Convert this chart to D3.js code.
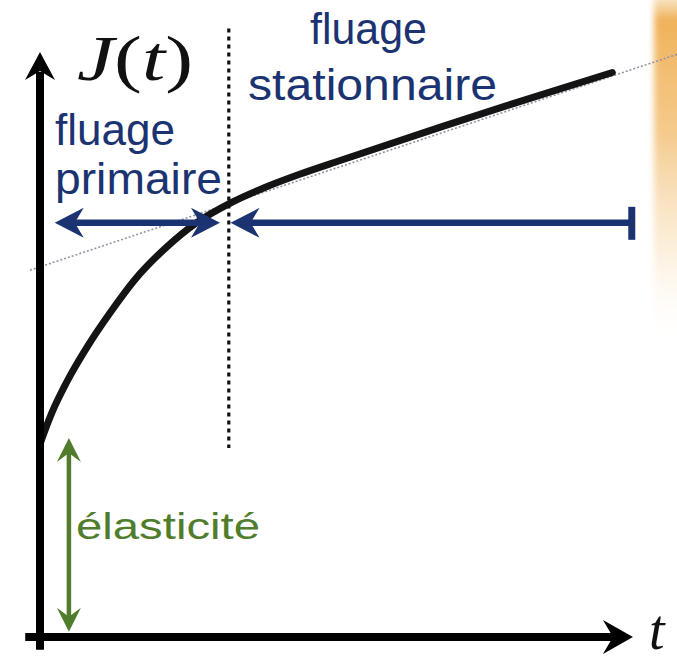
<!DOCTYPE html>
<html>
<head>
<meta charset="utf-8">
<script src="https://cdn.jsdelivr.net/npm/d3@7"></script>
<style>
  html, body { margin: 0; padding: 0; background: #ffffff; }
  svg { display: block; }
</style>
</head>
<body>
<svg id="chart" width="677" height="663"></svg>
<script>
// Creep compliance J(t) sampled along the curve (arbitrary units)
const timeValues       = [0, 2, 4.75, 8, 12, 16, 21.5, 26.5, 32.5, 38, 44, 51, 68, 79, 97];
const complianceValues = [33, 38.3, 44, 49.6, 55.6, 61, 66.7, 70.8, 74.3, 76.8, 79.1, 81.5, 87.2, 90.8, 96.5];

// Steady-state (secondary creep) asymptote
const asymptoteT = [-1.7, 108];
const asymptoteJ = [62.7, 99.6];

// Boundary between primary and steady-state creep
const transitionTime = 32;
const transitionJ = [32.3, 104];

// Phase arrows
const phaseLevel   = 70.8;
const primaryRange = [2.5, 30.5];
const steadyRange  = [32.3, 100.3];
const elasticTime  = 4.9;
const elasticRange = [0.9, 34];

// Axis extents
const timeAxisExtent = [-2.5, 100.5];
const compAxisExtent = [-2.2, 100];

// Text
const yLabelParts = [["J", true], ["(", false], ["t", true], [")", false]];
const xLabel = "t";
const steadyLabel  = ["fluage", "stationnaire"];
const primaryLabel = ["fluage", "primaire"];
const elasticLabel = "élasticité";

const svg = d3.select("#chart");

const x = d3.scaleLinear().domain([0, 100]).range([40, 630]);
const y = d3.scaleLinear().domain([0, 100]).range([637, 52]);

const BLUE = "#1b3371";
const GREEN = "#4f7d2c";

// Decorative warm strip at the right edge
const defs = svg.append("defs");
const grad = defs.append("linearGradient").attr("id", "warm").attr("x1", 0).attr("y1", 0).attr("x2", 0).attr("y2", 1);
grad.append("stop").attr("offset", "0%").attr("stop-color", "#f7e2bd").attr("stop-opacity", 0.7);
grad.append("stop").attr("offset", "7%").attr("stop-color", "#efae52").attr("stop-opacity", 0.95);
grad.append("stop").attr("offset", "40%").attr("stop-color", "#f2bd70").attr("stop-opacity", 0.8);
grad.append("stop").attr("offset", "72%").attr("stop-color", "#f8dcb2").attr("stop-opacity", 0.5);
grad.append("stop").attr("offset", "100%").attr("stop-color", "#fff6ea").attr("stop-opacity", 0);
defs.append("filter").attr("id", "soft").attr("x", "-50%").attr("width", "200%")
  .append("feGaussianBlur").attr("stdDeviation", 3);
svg.append("rect")
  .attr("x", 654).attr("y", -5).attr("width", 40).attr("height", 345)
  .attr("fill", "url(#warm)").attr("filter", "url(#soft)");

// Arrowhead path (stealth style) with tip at (tx, ty) pointing along (dx, dy)
function arrowHead(tx, ty, dx, dy, len, half, notch) {
  const px = -dy, py = dx;
  const bx = tx - dx * len, by = ty - dy * len;
  const nx = tx - dx * notch, ny = ty - dy * notch;
  return `M${tx},${ty}L${bx + px * half},${by + py * half}L${nx},${ny}L${bx - px * half},${by - py * half}Z`;
}

// Asymptote (dotted)
svg.append("line")
  .attr("x1", x(asymptoteT[0])).attr("y1", y(asymptoteJ[0]))
  .attr("x2", x(asymptoteT[1])).attr("y2", y(asymptoteJ[1]))
  .attr("stroke", "#9294a2").attr("stroke-width", 1.6)
  .attr("stroke-dasharray", "2,2");

// Transition line (dotted)
svg.append("line")
  .attr("x1", x(transitionTime)).attr("x2", x(transitionTime))
  .attr("y1", y(transitionJ[1])).attr("y2", y(transitionJ[0]))
  .attr("stroke", "#111").attr("stroke-width", 3.2)
  .attr("stroke-dasharray", "4,4");

// Creep curve
const data = timeValues.map((t, i) => ({ t, J: complianceValues[i] }));
svg.append("path")
  .datum(data)
  .attr("fill", "none")
  .attr("stroke", "#141414")
  .attr("stroke-width", 7)
  .attr("stroke-linecap", "round")
  .attr("d", d3.line().x(d => x(d.t)).y(d => y(d.J)).curve(d3.curveMonotoneX));

// Axes
const axisG = svg.append("g").attr("fill", "#000").attr("stroke", "#000");
axisG.append("line")
  .attr("x1", x(0)).attr("x2", x(0))
  .attr("y1", y(compAxisExtent[0])).attr("y2", y(compAxisExtent[1]) + 20)
  .attr("stroke-width", 8);
axisG.append("path")
  .attr("stroke", "none")
  .attr("d", arrowHead(x(0), y(compAxisExtent[1]), 0, -1, 28, 15, 19));
axisG.append("line")
  .attr("x1", x(timeAxisExtent[0])).attr("x2", x(timeAxisExtent[1]) - 20)
  .attr("y1", y(0)).attr("y2", y(0))
  .attr("stroke-width", 8);
axisG.append("path")
  .attr("stroke", "none")
  .attr("d", arrowHead(x(timeAxisExtent[1]), y(0), 1, 0, 30, 17, 20));

// Phase arrows (blue)
const py = y(phaseLevel);
const blueG = svg.append("g");
blueG.append("line")
  .attr("x1", x(primaryRange[0]) + 15).attr("x2", x(primaryRange[1]) - 15)
  .attr("y1", py).attr("y2", py)
  .attr("stroke", BLUE).attr("stroke-width", 6.5);
blueG.append("path").attr("fill", BLUE)
  .attr("d", arrowHead(x(primaryRange[0]), py, -1, 0, 29, 15, 20));
blueG.append("path").attr("fill", BLUE)
  .attr("d", arrowHead(x(primaryRange[1]), py, 1, 0, 29, 15, 20));
blueG.append("line")
  .attr("x1", x(steadyRange[0]) + 15).attr("x2", x(steadyRange[1]))
  .attr("y1", py).attr("y2", py)
  .attr("stroke", BLUE).attr("stroke-width", 6.5);
blueG.append("path").attr("fill", BLUE)
  .attr("d", arrowHead(x(steadyRange[0]), py, -1, 0, 29, 15, 20));
blueG.append("line")
  .attr("x1", x(steadyRange[1])).attr("x2", x(steadyRange[1]))
  .attr("y1", py - 16).attr("y2", py + 17)
  .attr("stroke", BLUE).attr("stroke-width", 7);

// Elastic arrow (green)
const ex = x(elasticTime);
svg.append("line")
  .attr("x1", ex).attr("x2", ex)
  .attr("y1", y(elasticRange[0]) - 12).attr("y2", y(elasticRange[1]) + 12)
  .attr("stroke", GREEN).attr("stroke-width", 4.5);
svg.append("path").attr("fill", GREEN)
  .attr("d", arrowHead(ex, y(elasticRange[1]), 0, -1, 24, 12, 15));
svg.append("path").attr("fill", GREEN)
  .attr("d", arrowHead(ex, y(elasticRange[0]), 0, 1, 24, 12, 15));

// Labels
const sans = "'Liberation Sans', Arial, Helvetica, sans-serif";
const serif = "'Liberation Serif', 'DejaVu Serif', 'Times New Roman', serif";

function label(txt, lx, ly, len, size, color) {
  return svg.append("text")
    .attr("x", lx).attr("y", ly)
    .attr("font-family", sans).attr("font-size", size)
    .attr("fill", color)
    .attr("textLength", len).attr("lengthAdjust", "spacingAndGlyphs")
    .text(txt);
}
label(steadyLabel[0], 310, 44, 117, 44, BLUE);
label(steadyLabel[1], 248, 100, 249, 44, BLUE);
label(primaryLabel[0], 55, 145, 120, 44, BLUE);
label(primaryLabel[1], 55, 194, 167, 44, BLUE);
label(elasticLabel, 76, 539, 184, 37, GREEN);

const yl = svg.append("text")
  .attr("x", 77).attr("y", 80)
  .attr("font-family", serif).attr("font-size", 63)
  .attr("fill", "#111")
  .attr("textLength", 116).attr("lengthAdjust", "spacingAndGlyphs");
yLabelParts.forEach(([s, it]) => {
  yl.append("tspan").attr("font-style", it ? "italic" : "normal").text(s);
});

svg.append("text")
  .attr("x", 649).attr("y", 649)
  .attr("font-family", serif).attr("font-size", 56)
  .attr("font-style", "italic")
  .attr("fill", "#111")
  .text(xLabel);
</script>
</body>
</html>
